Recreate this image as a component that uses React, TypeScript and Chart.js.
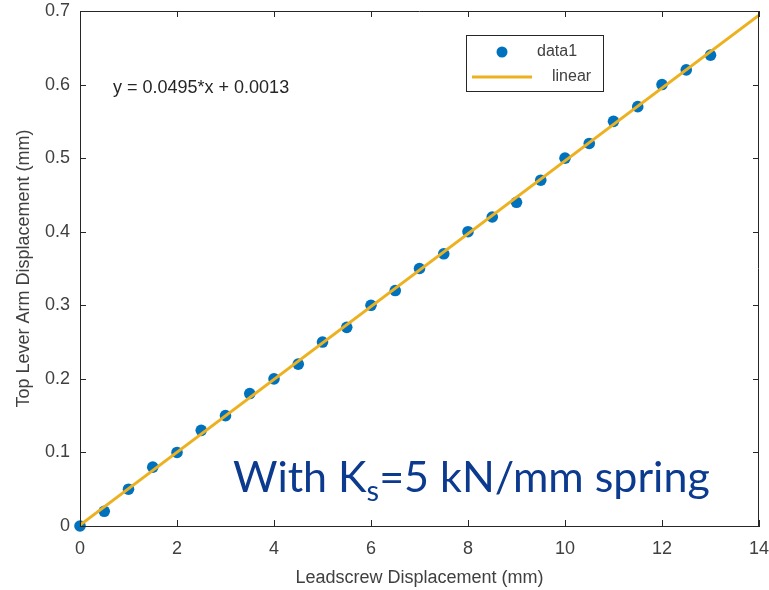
import { useEffect, useRef } from 'react';
import { Chart, registerables } from 'chart.js';

Chart.register(...registerables);

const xValues = [0, 0.5, 1, 1.5, 2, 2.5, 3, 3.5, 4, 4.5, 5, 5.5, 6, 6.5, 7, 7.5, 8, 8.5, 9, 9.5, 10, 10.5, 11, 11.5, 12, 12.5, 13];
const yValues = [0, 0.02, 0.05, 0.08, 0.1, 0.13, 0.15, 0.18, 0.2, 0.22, 0.25, 0.27, 0.3, 0.32, 0.35, 0.37, 0.4, 0.42, 0.44, 0.47, 0.5, 0.52, 0.55, 0.57, 0.6, 0.62, 0.64];
const fitX = [0, 14];
const fitY = [0.0013, 0.6943];
const xTicks = [0, 2, 4, 6, 8, 10, 12, 14];
const yTicks = [0, 0.1, 0.2, 0.3, 0.4, 0.5, 0.6, 0.7];
const seriesLabels = ['data1', 'linear'];
const xTitle = 'Leadscrew Displacement (mm)';
const yTitle = 'Top Lever Arm Displacement (mm)';
const equationText = 'y = 0.0495*x + 0.0013';
const noteParts = ['With K', 's', '=5 kN/mm spring'];

const DOT = '#0072BD';
const LINE = '#EDB120';
const AXIS = '#262626';
const TEXT = '#404040';
const NOTE = '#0B3A8E';
const FONT = '"Liberation Sans", Arial, sans-serif';

const overlay = {
  id: 'overlay',
  afterDraw(chart: any) {
    const { ctx, chartArea, scales } = chart;
    const { left, right, top, bottom } = chartArea;
    const xs = scales.x;
    const ys = scales.y;
    ctx.save();
    ctx.strokeStyle = AXIS;
    ctx.lineWidth = 1;
    ctx.beginPath();
    ctx.moveTo(left, Math.round(top) + 0.5);
    ctx.lineTo(right, Math.round(top) + 0.5);
    ctx.moveTo(Math.round(right) - 0.5, top);
    ctx.lineTo(Math.round(right) - 0.5, bottom);
    const tl = 6;
    xTicks.forEach((v) => {
      const px = Math.round(xs.getPixelForValue(v)) + 0.5;
      ctx.moveTo(px, bottom);
      ctx.lineTo(px, bottom - tl);
      ctx.moveTo(px, top);
      ctx.lineTo(px, top + tl);
    });
    yTicks.forEach((v) => {
      const py = Math.round(ys.getPixelForValue(v)) + 0.5;
      ctx.moveTo(left, py);
      ctx.lineTo(left + tl, py);
      ctx.moveTo(right, py);
      ctx.lineTo(right - tl, py);
    });
    ctx.stroke();

    // legend
    const lx = left + 386;
    const ly = top + 24;
    ctx.fillStyle = '#ffffff';
    ctx.fillRect(lx, ly, 137, 56);
    ctx.strokeStyle = AXIS;
    ctx.strokeRect(lx + 0.5, ly + 0.5, 137, 56);
    ctx.fillStyle = DOT;
    ctx.beginPath();
    ctx.arc(lx + 36, ly + 17, 5.5, 0, Math.PI * 2);
    ctx.fill();
    ctx.strokeStyle = LINE;
    ctx.lineWidth = 3;
    ctx.beginPath();
    ctx.moveTo(lx + 6, ly + 42);
    ctx.lineTo(lx + 66, ly + 42);
    ctx.stroke();
    ctx.fillStyle = TEXT;
    ctx.font = `16px ${FONT}`;
    ctx.textBaseline = 'middle';
    ctx.textAlign = 'left';
    ctx.fillText(seriesLabels[0], lx + 71, ly + 17);
    ctx.fillText(seriesLabels[1], lx + 86, ly + 42);

    // equation
    ctx.fillStyle = '#262626';
    ctx.font = `18px ${FONT}`;
    ctx.textBaseline = 'alphabetic';
    ctx.fillText(equationText, left + 33, top + 82);

    // note
    ctx.fillStyle = NOTE;
    const big = `43px Lato, "Open Sans", sans-serif`;
    const small = `29px Lato, "Open Sans", sans-serif`;
    let nx = left + 153;
    const ny = top + 481;
    ctx.font = big;
    ctx.fillText(noteParts[0], nx, ny);
    nx += ctx.measureText(noteParts[0]).width;
    ctx.font = small;
    ctx.fillText(noteParts[1], nx, ny + 9);
    nx += ctx.measureText(noteParts[1]).width;
    ctx.font = big;
    ctx.fillText(noteParts[2], nx, ny);
    ctx.restore();
  },
};

const zeroPad = (s: any) => {
  s.paddingTop = 0;
  s.paddingBottom = 0;
  s.paddingLeft = 0;
  s.paddingRight = 0;
};

export default function App() {
  const ref = useRef<HTMLCanvasElement>(null);
  useEffect(() => {
    if (!ref.current) return;
    const chart = new Chart(ref.current, {
      type: 'scatter',
      data: {
        datasets: [
          {
            label: seriesLabels[0],
            data: xValues.map((x, i) => ({ x, y: yValues[i] })),
            backgroundColor: DOT,
            borderWidth: 0,
            pointRadius: 5.8,
            clip: false,
            order: 1,
          } as any,
          {
            type: 'line',
            label: seriesLabels[1],
            data: fitX.map((x, i) => ({ x, y: fitY[i] })),
            borderColor: LINE,
            borderWidth: 3,
            pointRadius: 0,
            showLine: true,
            fill: false,
            order: 0,
          } as any,
        ],
      },
      options: {
        animation: false,
        responsive: false,
        devicePixelRatio: 1,
        layout: { padding: { top: 11, right: 10, left: 0, bottom: 0 } },
        plugins: { legend: { display: false }, tooltip: { enabled: false } },
        scales: {
          x: {
            type: 'linear',
            min: 0,
            max: 14,
            grid: { display: false, drawTicks: false },
            border: { display: true, color: AXIS, width: 1 },
            afterBuildTicks: (s: any) => {
              s.ticks = xTicks.map((v) => ({ value: v }));
            },
            afterFit: (s: any) => {
              s.height = 64;
              zeroPad(s);
            },
            ticks: {
              color: TEXT,
              font: { family: FONT, size: 18 },
              padding: 12,
              maxRotation: 0,
              autoSkip: false,
              callback: (v: any) => String(v),
            },
            title: {
              display: true,
              text: xTitle,
              color: TEXT,
              font: { family: FONT, size: 18 },
              padding: { top: 0, bottom: 1 },
            },
          },
          y: {
            type: 'linear',
            min: 0,
            max: 0.7,
            grid: { display: false, drawTicks: false },
            border: { display: true, color: AXIS, width: 1 },
            afterBuildTicks: (s: any) => {
              s.ticks = yTicks.map((v) => ({ value: v }));
            },
            afterFit: (s: any) => {
              s.width = 80;
              zeroPad(s);
            },
            ticks: {
              color: TEXT,
              font: { family: FONT, size: 18 },
              padding: 10,
              autoSkip: false,
              callback: (v: any) => String(Math.round(v * 10) / 10),
            },
            title: {
              display: true,
              text: yTitle,
              color: TEXT,
              font: { family: FONT, size: 18 },
              padding: { top: 13, bottom: 0 },
            },
          },
        },
      },
      plugins: [overlay],
    });
    return () => chart.destroy();
  }, []);
  return (
    <div style={{ position: 'fixed', left: 0, top: 0, width: 769, height: 590, background: '#fff' }}>
      <canvas ref={ref} width={769} height={590} />
    </div>
  );
}
